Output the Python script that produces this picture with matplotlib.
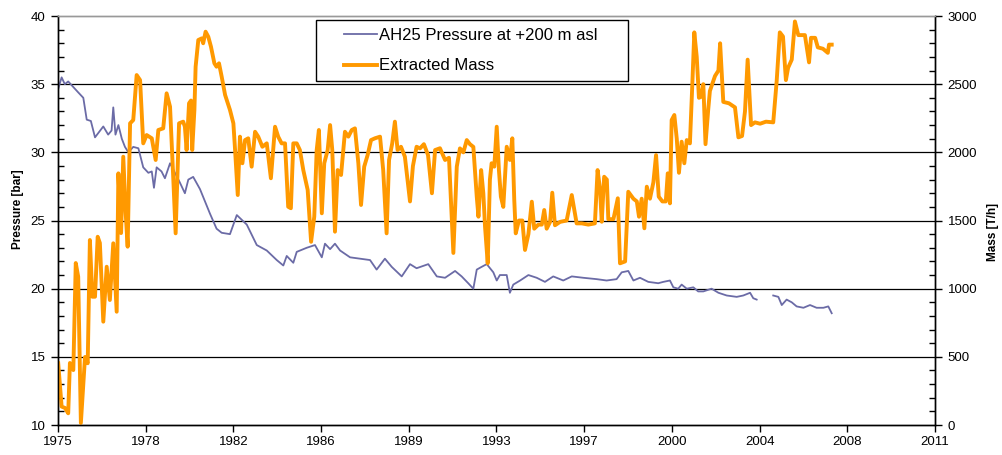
import matplotlib.pyplot as plt
import numpy as np
from matplotlib.ticker import MultipleLocator
from matplotlib.legend_handler import HandlerLine2D

plt.rcParams['font.family'] = ['Liberation Sans', 'DejaVu Sans']

# AH25 pressure [bar] (NaN = gap in record)
p_year = [1975.00, 1975.15, 1975.28, 1975.42, 1975.83, 1976.04, 1976.18, 1976.35, 1976.52, 1976.69,
          1976.86, 1977.06, 1977.20, 1977.27, 1977.36, 1977.48, 1977.62, 1977.75, 1977.89, 1978.09,
          1978.30, 1978.50, 1978.71, 1978.85, 1978.94, 1979.05, 1979.25, 1979.39, 1979.60, 1979.80,
          1980.00, 1980.21, 1980.35, 1980.55, 1980.83, 1981.24, 1981.51, 1981.72, 1982.06, 1982.34,
          1982.75, 1983.16, 1983.57, 1983.98, 1984.25, 1984.39, 1984.66, 1984.80, 1985.21, 1985.55,
          1985.83, 1985.96, 1986.17, 1986.37, 1986.58, 1986.99, 1987.40, 1987.81, 1988.08, 1988.42,
          1988.70, 1989.11, 1989.45, 1989.72, 1990.20, 1990.55, 1990.89, 1991.30, 1991.57, 1991.84,
          1992.05, 1992.19, 1992.39, 1992.60, 1992.87, 1993.01, 1993.14, 1993.42, 1993.55, 1993.69,
          1993.97, 1994.31, 1994.65, 1994.99, 1995.33, 1995.74, 1996.09, 1996.56, 1997.11, 1997.52,
          1997.93, 1998.14, 1998.41, 1998.62, 1998.89, 1999.23, 1999.64, 1999.85, 2000.12, 2000.26,
          2000.46, 2000.60, 2000.81, 2001.08, 2001.28, 2001.49, 2001.83, 2002.11, 2002.45, 2002.86,
          2003.13, 2003.41, 2003.54, 2003.68, 2004.00, 2004.36, 2004.57, 2004.71, 2004.91, 2005.12,
          2005.32, 2005.60, 2005.87, 2006.14, 2006.42, 2006.62, 2006.76]
pressure = [34.6, 35.5, 35.0, 35.2, 34.4, 34.0, 32.4, 32.3, 31.1, 31.5,
            31.9, 31.3, 31.6, 33.3, 31.3, 32.0, 31.0, 30.4, 30.0, 30.4,
            30.3, 28.9, 28.5, 28.6, 27.4, 28.9, 28.6, 28.1, 29.2, 28.5,
            27.8, 27.0, 28.0, 28.2, 27.3, 25.5, 24.4, 24.1, 24.0, 25.4,
            24.7, 23.2, 22.8, 22.1, 21.7, 22.4, 21.9, 22.7, 23.0, 23.2,
            22.3, 23.3, 22.9, 23.3, 22.8, 22.3, 22.2, 22.1, 21.4, 22.2,
            21.6, 20.9, 21.8, 21.5, 21.8, 20.9, 20.8, 21.3, 20.9, 20.4,
            20.0, 21.4, 21.6, 21.8, 21.2, 20.6, 21.0, 21.0, 19.7, 20.3,
            20.6, 21.0, 20.8, 20.5, 20.9, 20.6, 20.9, 20.8, 20.7, 20.6,
            20.7, 21.2, 21.3, 20.6, 20.8, 20.5, 20.4, 20.5, 20.6, 20.1,
            20.0, 20.3, 20.0, 20.1, 19.8, 19.8, 20.0, 19.7, 19.5, 19.4,
            19.5, 19.7, 19.3, 19.2, np.nan, 19.5, 19.4, 18.8, 19.2, 19.0,
            18.7, 18.6, 18.8, 18.6, 18.6, 18.7, 18.2]

# extracted mass [T/h]
m_year = [1975.01, 1975.15, 1975.29, 1975.42, 1975.49, 1975.63, 1975.73, 1975.83, 1975.94, 1976.11,
          1976.22, 1976.31, 1976.41, 1976.52, 1976.63, 1976.72, 1976.86, 1977.00, 1977.13, 1977.27,
          1977.41, 1977.48, 1977.59, 1977.68, 1977.78, 1977.86, 1977.96, 1978.09, 1978.23, 1978.37,
          1978.50, 1978.64, 1978.85, 1979.01, 1979.12, 1979.32, 1979.46, 1979.60, 1979.73, 1979.83,
          1979.97, 1980.14, 1980.21, 1980.28, 1980.38, 1980.46, 1980.51, 1980.60, 1980.65, 1980.76,
          1980.90, 1980.96, 1981.06, 1981.17, 1981.28, 1981.42, 1981.51, 1981.61, 1981.72, 1981.86,
          1982.06, 1982.20, 1982.27, 1982.38, 1982.47, 1982.57, 1982.68, 1982.81, 1982.95, 1983.09,
          1983.22, 1983.39, 1983.57, 1983.74, 1983.91, 1984.04, 1984.18, 1984.32, 1984.45, 1984.56,
          1984.66, 1984.80, 1984.93, 1985.07, 1985.25, 1985.39, 1985.52, 1985.62, 1985.71, 1985.83,
          1985.93, 1986.07, 1986.17, 1986.26, 1986.37, 1986.48, 1986.62, 1986.78, 1986.92, 1987.06,
          1987.19, 1987.33, 1987.44, 1987.57, 1987.71, 1987.85, 1988.01, 1988.22, 1988.35, 1988.49,
          1988.59, 1988.72, 1988.83, 1988.94, 1989.08, 1989.24, 1989.45, 1989.57, 1989.72, 1989.86,
          1990.02, 1990.19, 1990.35, 1990.48, 1990.68, 1990.89, 1991.05, 1991.23, 1991.37, 1991.50,
          1991.64, 1991.78, 1991.91, 1992.05, 1992.19, 1992.26, 1992.37, 1992.46, 1992.53, 1992.64,
          1992.73, 1992.80, 1992.91, 1993.01, 1993.10, 1993.18, 1993.28, 1993.42, 1993.55, 1993.65,
          1993.73, 1993.79, 1993.92, 1994.06, 1994.17, 1994.31, 1994.45, 1994.55, 1994.72, 1994.86,
          1994.96, 1995.06, 1995.20, 1995.29, 1995.40, 1995.61, 1995.88, 1996.09, 1996.29, 1996.50,
          1996.77, 1997.04, 1997.15, 1997.25, 1997.32, 1997.42, 1997.53, 1997.59, 1997.80, 1997.98,
          1998.07, 1998.28, 1998.41, 1998.62, 1998.76, 1998.85, 1998.96, 1999.07, 1999.17, 1999.30,
          1999.44, 1999.55, 1999.66, 1999.81, 1999.95, 2000.03, 2000.12, 2000.19, 2000.30, 2000.40,
          2000.49, 2000.60, 2000.71, 2000.81, 2000.94, 2001.04, 2001.12, 2001.22, 2001.31, 2001.40,
          2001.49, 2001.58, 2001.69, 2001.76, 2001.97, 2002.11, 2002.18, 2002.31, 2002.54, 2002.79,
          2002.93, 2003.08, 2003.20, 2003.31, 2003.45, 2003.61, 2003.82, 2004.06, 2004.36, 2004.50,
          2004.63, 2004.76, 2004.88, 2004.97, 2005.12, 2005.25, 2005.39, 2005.66, 2005.83, 2005.91,
          2006.08, 2006.19, 2006.40, 2006.60, 2006.65, 2006.76]
mass = [453, 135, 125, 86, 455, 403, 1188, 1088, 15, 499,
        453, 1357, 941, 941, 1381, 1335, 758, 1161, 917, 1333,
        831, 1846, 1408, 1968, 1555, 1308, 2213, 2237, 2567, 2530,
        2066, 2127, 2103, 1944, 2164, 2176, 2433, 2335, 1821, 1406,
        2213, 2225, 2188, 2017, 2360, 2380, 2017, 2311, 2628, 2824,
        2836, 2800, 2885, 2848, 2775, 2653, 2628, 2653, 2555, 2421,
        2311, 2213, 2017, 1687, 2115, 1920, 2090, 2103, 1895, 2151,
        2115, 2041, 2066, 1810, 2188, 2115, 2066, 2066, 1601, 1590,
        2066, 2066, 2017, 1870, 1724, 1344, 1528, 2017, 2164, 1553,
        1920, 2017, 2200, 2017, 1418, 1870, 1834, 2151, 2115, 2164,
        2176, 1920, 1614, 1895, 1980, 2090, 2103, 2115, 1870, 1406,
        1944, 2066, 2225, 2017, 2041, 1968, 1640, 1900, 2041, 2029,
        2060, 1980, 1700, 2017, 2030, 1944, 1960, 1262, 1895, 2029,
        2000, 2090, 2060, 2040, 1675, 1528, 1870, 1700, 1455, 1186,
        1800, 1920, 1895, 2188, 1870, 1675, 1600, 2041, 1944, 2103,
        1650, 1406, 1500, 1500, 1284, 1400, 1638, 1440, 1470, 1470,
        1577, 1440, 1490, 1704, 1465, 1490, 1500, 1687, 1479, 1479,
        1470, 1479, 1870, 1730, 1491, 1821, 1800, 1510, 1510, 1663,
        1186, 1200, 1711, 1660, 1640, 1528, 1660, 1443, 1748, 1660,
        1780, 1980, 1675, 1640, 1640, 1846, 1626, 2237, 2274, 2100,
        1850, 2078, 1920, 2090, 2066, 2506, 2880, 2700, 2400, 2408,
        2500, 2060, 2311, 2450, 2560, 2600, 2800, 2370, 2360, 2330,
        2110, 2120, 2300, 2680, 2200, 2220, 2210, 2225, 2220, 2520,
        2880, 2850, 2530, 2620, 2680, 2960, 2860, 2860, 2660, 2840,
        2840, 2770, 2760, 2730, 2790, 2790]

x_labels = ['1975', '1978', '1982', '1986', '1989', '1993', '1997', '2000', '2004', '2008', '2011']

fig = plt.figure(figsize=(10.03, 4.55), dpi=100)
ax = fig.add_axes([0.0578, 0.0659, 0.8744, 0.8989])
ax2 = ax.twinx()

for yv in [15, 20, 25, 30, 35]:
    ax.axhline(yv, color='black', lw=0.9, zorder=0)

l1, = ax.plot(p_year, pressure, color='#6b6ba6', lw=1.3)
l2, = ax2.plot(m_year, mass, color='#ff9900', lw=2.8)

ax.set_xlim(1975, 2011)
ax.set_ylim(10, 40)
ax2.set_ylim(0, 3000)
ax.set_xticks(np.linspace(1975, 2011, len(x_labels)))
ax.set_xticklabels(x_labels)

ax.yaxis.set_major_locator(MultipleLocator(5))
ax.yaxis.set_minor_locator(MultipleLocator(1))
ax2.yaxis.set_major_locator(MultipleLocator(500))
ax2.yaxis.set_minor_locator(MultipleLocator(100))

for a in (ax, ax2):
    a.tick_params(axis='both', which='major', direction='out', length=5, width=1,
                  labelsize=9.5, color='black')
    a.tick_params(axis='x', which='major', pad=3)
    a.tick_params(axis='y', which='major', pad=4)
    a.tick_params(axis='y', which='minor', direction='in', length=4, width=1)
    a.spines['top'].set_color('#999999')
    a.spines['top'].set_linewidth(1)
    for s in ('left', 'right', 'bottom'):
        a.spines[s].set_linewidth(1)

# axis titles placed as figure texts so the right one stays inside the image
fig.text(0.018, 0.54, 'Pressure [bar]', rotation=90, ha='center', va='center',
         fontsize=8.5, fontweight='bold')
fig.text(0.990, 0.49, 'Mass [T/h]', rotation=90, ha='center', va='center',
         fontsize=8.5, fontweight='bold')

hmap = {l1: HandlerLine2D(xpad=1.25), l2: HandlerLine2D(xpad=1.25)}
leg = ax2.legend([l1, l2], ['AH25 Pressure at +200 m asl', 'Extracted Mass'],
                 loc='upper left', bbox_to_anchor=(0.294, 0.99, 0.356, 0.0),
                 mode='expand', borderaxespad=0, fontsize=12, frameon=True,
                 fancybox=False, edgecolor='black', framealpha=1,
                 handlelength=3.2, handletextpad=0.15, labelspacing=0.95,
                 borderpad=0.45, handler_map=hmap)
leg.get_frame().set_linewidth(1)

plt.savefig('out.png', dpi=100)
